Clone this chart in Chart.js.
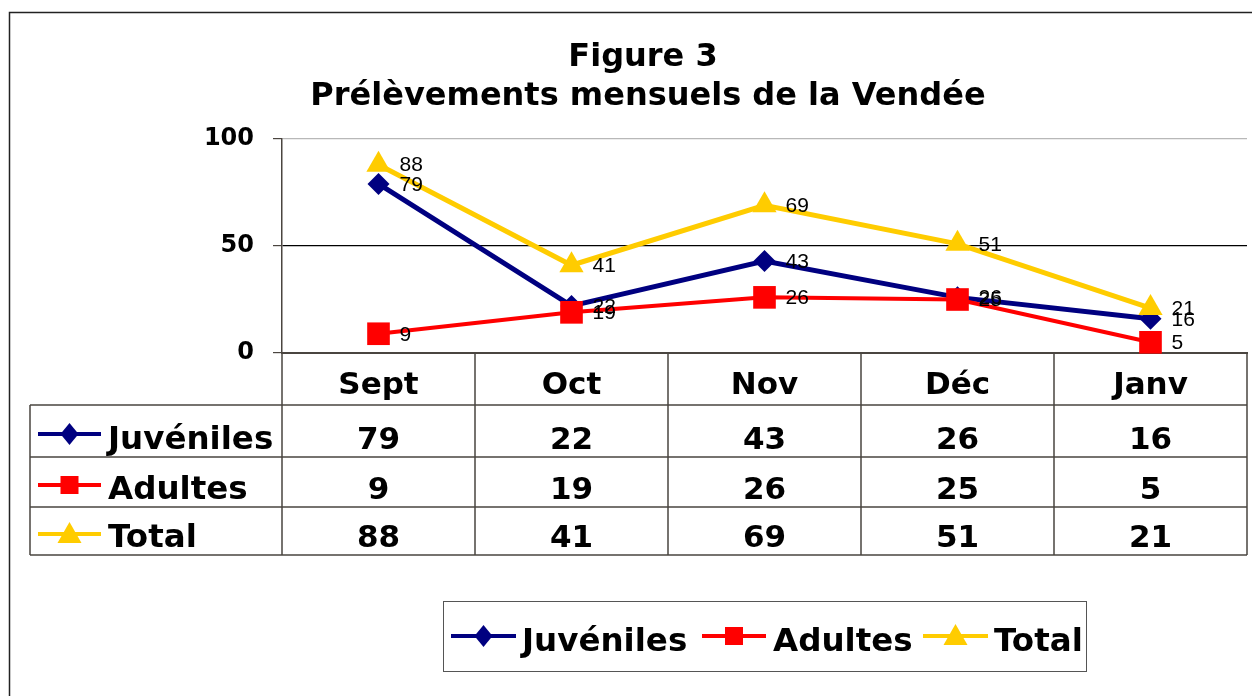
<!DOCTYPE html>
<html><head><meta charset="utf-8">
<script src="https://cdn.jsdelivr.net/npm/chart.js@4/dist/chart.umd.min.js"></script>
<style>html,body{margin:0;padding:0;background:#fff;} canvas{display:block;}</style>
</head><body>
<canvas id="c" width="1252" height="696"></canvas>
<script>
// ---- data ----
const titleLines = ['Figure 3', 'Prélèvements mensuels de la Vendée'];
const months = ['Sept', 'Oct', 'Nov', 'Déc', 'Janv'];
const juveniles = [79, 22, 43, 26, 16];
const adultes = [9, 19, 26, 25, 5];
const total = [88, 41, 69, 51, 21];
const seriesNames = ['Juvéniles', 'Adultes', 'Total'];
const yTickValues = [0, 50, 100];

// ---- styles ----
const colors = ['#000080', '#FF0000', '#FFCC00'];
const markers = ['rectRot', 'rect', 'triangle'];
const BOLD = '"DejaVu Sans", Verdana, sans-serif';

function drawMarker(ctx, kind, x, y, color) {
  ctx.save();
  ctx.fillStyle = color;
  ctx.beginPath();
  if (kind === 'rectRot') {
    ctx.moveTo(x - 9, y); ctx.lineTo(x, y - 11); ctx.lineTo(x + 9, y); ctx.lineTo(x, y + 11);
  } else if (kind === 'rect') {
    ctx.rect(x - 9, y - 9, 18, 18);
  } else {
    ctx.moveTo(x, y - 12); ctx.lineTo(x + 12, y + 9); ctx.lineTo(x - 12, y + 9);
  }
  ctx.closePath(); ctx.fill();
  ctx.restore();
}
function drawLegendSymbol(ctx, i, x1, x2, y) {
  ctx.save();
  ctx.strokeStyle = colors[i]; ctx.lineWidth = 4;
  ctx.beginPath(); ctx.moveTo(x1, y); ctx.lineTo(x2, y); ctx.stroke();
  ctx.restore();
  drawMarker(ctx, markers[i], (x1 + x2) / 2, y, colors[i]);
}

const decor = {
  id: 'decor',
  beforeDraw(chart) {
    const ctx = chart.ctx;
    ctx.save(); ctx.fillStyle = '#fff'; ctx.fillRect(0, 0, chart.width, chart.height); ctx.restore();
  },
  afterDatasetsDraw(chart) {
    const ctx = chart.ctx;
    ctx.save();
    ctx.fillStyle = '#000';
    ctx.font = '21px "Liberation Sans", Arial, sans-serif';
    ctx.textAlign = 'left'; ctx.textBaseline = 'middle';
    chart.data.datasets.forEach((ds, i) => {
      const meta = chart.getDatasetMeta(i);
      meta.data.forEach((pt, j) => ctx.fillText(String(ds.data[j]), pt.x + 21, pt.y + 1));
    });
    ctx.restore();
  },
  afterDraw(chart) {
    const ctx = chart.ctx, ca = chart.chartArea, xs = chart.scales.x;
    ctx.save();
    // outer frame
    ctx.strokeStyle = '#222'; ctx.lineWidth = 1.5;
    ctx.beginPath(); ctx.moveTo(9.5, 700); ctx.lineTo(9.5, 12.5); ctx.lineTo(1260, 12.5); ctx.stroke();
    // title
    ctx.fillStyle = '#000'; ctx.textAlign = 'center'; ctx.textBaseline = 'alphabetic';
    ctx.font = 'bold 32px ' + BOLD;
    ctx.fillText(titleLines[0], 643, 66);
    ctx.fillText(titleLines[1], 648, 105);

    // data table
    const n = months.length;
    const bounds = [ca.left];
    for (let k = 0; k < n - 1; k++) bounds.push((xs.getPixelForValue(k) + xs.getPixelForValue(k + 1)) / 2);
    bounds.push(ca.right);
    const rowLines = [405, 457, 507, 555];
    const tableLeft = 30;
    ctx.strokeStyle = '#4a4540'; ctx.lineWidth = 1.5;
    ctx.beginPath();
    rowLines.forEach(y => { ctx.moveTo(tableLeft, y); ctx.lineTo(ca.right, y); });
    ctx.moveTo(tableLeft, rowLines[0]); ctx.lineTo(tableLeft, rowLines[3]);
    bounds.forEach(x => { ctx.moveTo(x, ca.bottom); ctx.lineTo(x, rowLines[3]); });
    ctx.stroke();

    const rowData = [juveniles, adultes, total];
    rowData.forEach((arr, r) => {
      const yTop = rowLines[r], yBot = rowLines[r + 1];
      const yMid = (yTop + yBot) / 2 + 3;
      const base = yBot - 8;
      drawLegendSymbol(ctx, r, 38, 101, yMid);
      ctx.fillStyle = '#000';
      ctx.textAlign = 'left';
      ctx.font = 'bold 32.5px ' + BOLD;
      ctx.fillText(seriesNames[r], 108, base);
      ctx.textAlign = 'center';
      ctx.font = 'bold 31px ' + BOLD;
      arr.forEach((v, j) => ctx.fillText(String(v), xs.getPixelForValue(j), base));
    });

    // legend box
    ctx.strokeStyle = '#555'; ctx.lineWidth = 1;
    ctx.strokeRect(443.5, 601.5, 643, 70);
    const legendItems = [[451, 516, 522], [702, 766, 773], [923, 988, 994]];
    legendItems.forEach((it, i) => {
      drawLegendSymbol(ctx, i, it[0], it[1], 636);
      ctx.fillStyle = '#000'; ctx.textAlign = 'left';
      ctx.font = 'bold 32.5px ' + BOLD;
      ctx.fillText(seriesNames[i], it[2], 651);
    });
    ctx.restore();
  }
};

const datasets = [juveniles, adultes, total].map((d, i) => ({
  label: seriesNames[i],
  data: d,
  borderColor: colors[i],
  backgroundColor: colors[i],
  borderWidth: i === 1 ? 4 : 5,
  pointStyle: markers[i],
  pointRadius: [11, 16, 14][i],
  pointHoverRadius: [11, 16, 14][i],
  pointBorderWidth: 0,
  tension: 0,
  clip: false,
  order: 3 - i
}));

new Chart(document.getElementById('c'), {
  type: 'line',
  data: { labels: months, datasets },
  plugins: [decor],
  options: {
    responsive: false,
    animation: false,
    events: [],
    layout: { autoPadding: false, padding: { top: 139, right: 5, left: 0, bottom: 0 } },
    plugins: { legend: { display: false }, title: { display: false }, tooltip: { enabled: false } },
    scales: {
      x: {
        offset: true,
        afterFit: s => { s.height = 343; },
        grid: { display: false, drawTicks: false },
        border: { display: true, color: '#4a4540', width: 2 },
        ticks: { color: '#000', font: { family: BOLD, size: 31, weight: 'bold' }, padding: 14, maxRotation: 0, autoSkip: false }
      },
      y: {
        min: 0, max: 100,
        afterFit: s => { s.width = 282; },
        afterBuildTicks: s => { s.ticks = yTickValues.map(v => ({ value: v })); },
        grid: {
          color: c => (c.tick && c.tick.value === 100) ? '#b8b8b8' : '#000',
          lineWidth: 1.2,
          drawTicks: true, tickLength: 9, tickColor: '#4a4540'
        },
        border: { display: true, color: '#4a4540', width: 1.5 },
        ticks: { color: '#000', font: { family: BOLD, size: 24, weight: 'bold' }, padding: 19 }
      }
    }
  }
});
</script>
</body></html>
